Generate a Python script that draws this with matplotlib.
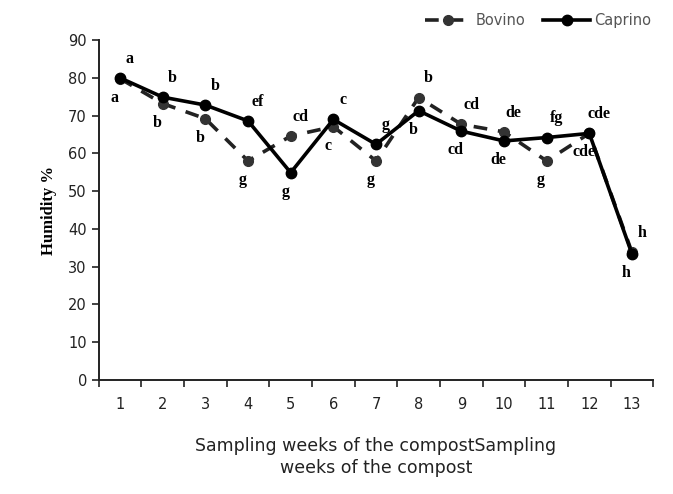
import matplotlib
matplotlib.use("Agg")
import matplotlib.pyplot as plt
import numpy as np

weeks = [1, 2, 3, 4, 5, 6, 7, 8, 9, 10, 11, 12, 13]
week_labels = [str(w) for w in weeks]
bovino = [79.8, 73.2, 69.2, 58.0, 64.6, 67.1, 58.0, 74.8, 67.7, 65.7, 58.0, 65.3, 33.8]
caprino = [80.0, 74.9, 72.8, 68.6, 54.9, 69.0, 62.4, 71.3, 65.9, 63.3, 64.2, 65.3, 33.4]
bovino_letters = ["a", "b", "b", "g", "cd", "c", "g", "b", "cd", "de", "g", "cde", "h"]
caprino_letters = ["a", "b", "b", "ef", "g", "c", "g", "b", "cd", "de", "fg", "cde", "h"]

fig = plt.figure(figsize=(6.73, 4.94), dpi=100)
ax = fig.add_axes([0.1467, 0.2308, 0.824, 0.688])

ax.plot(weeks, bovino, color="#222222", lw=2.6, linestyle=(0, (3.8, 3.0)),
        marker="o", markersize=7, markerfacecolor="#333333",
        markeredgecolor="#333333", label="Bovino", zorder=2)
ax.plot(weeks, caprino, color="black", lw=2.6, linestyle="-",
        marker="o", markersize=7.5, markerfacecolor="black",
        markeredgecolor="black", label="Caprino", zorder=3)

serif = dict(family="Liberation Serif", fontweight="bold", fontsize=11.5, color="black")
for i, w in enumerate(weeks):
    b, c = bovino[i], caprino[i]
    if c >= b:
        hi, lo = caprino_letters[i], bovino_letters[i]
        hv, lv = c, b
    else:
        hi, lo = bovino_letters[i], caprino_letters[i]
        hv, lv = b, c
    ax.annotate(hi, (w, hv), xytext=(7, 8), textcoords="offset points",
                ha="center", va="bottom", **serif)
    ax.annotate(lo, (w, lv), xytext=(-4, -8), textcoords="offset points",
                ha="center", va="top", **serif)

ax.set_xlim(0.5, 13.5)
ax.set_ylim(0, 90)
ax.set_yticks(np.arange(0, 91, 10))
ax.set_xticks(weeks)
ax.set_xticklabels(week_labels)
ax.set_xticks(np.arange(0.5, 13.6, 1), minor=True)
ax.tick_params(axis="x", which="major", length=0, pad=12, labelsize=10.5, labelcolor="#222222")
ax.tick_params(axis="x", which="minor", length=5, width=1.2, color="#222222", direction="out")
ax.tick_params(axis="y", length=5, width=1.2, color="#222222", labelsize=10.5, labelcolor="#222222")

for s in ["top", "right"]:
    ax.spines[s].set_visible(False)
for s in ["left", "bottom"]:
    ax.spines[s].set_linewidth(1.4)
    ax.spines[s].set_color("#222222")

ax.set_ylabel("Humidity %", family="Liberation Serif", fontweight="bold", fontsize=12, labelpad=8)
ax.set_xlabel("Sampling weeks of the compostSampling\nweeks of the compost",
              fontsize=12.5, color="#222222", labelpad=18, linespacing=1.3)

leg = ax.legend(loc="upper right", bbox_to_anchor=(1.02, 1.118), ncol=2, frameon=False,
                fontsize=10.5, handlelength=3.2, columnspacing=1.2, handletextpad=0.3)
for t in leg.get_texts():
    t.set_color("#555555")

fig.savefig("out.png", dpi=100)
